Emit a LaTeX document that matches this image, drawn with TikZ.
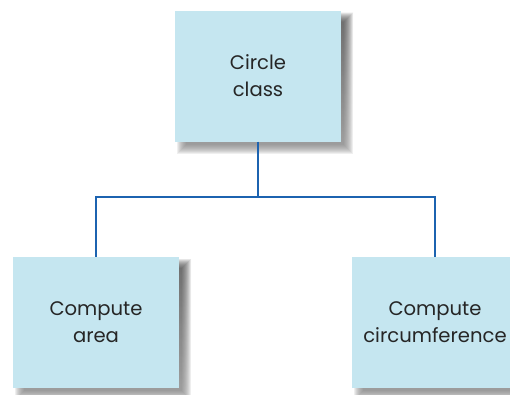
\documentclass[tikz,border=0pt]{standalone}
\usepackage{fontspec}
\setmainfont{Poppins}
\definecolor{boxfill}{HTML}{C5E6F0}
\definecolor{linkblue}{HTML}{1C63B0}
\definecolor{shade}{HTML}{BDB890}
\definecolor{inktext}{HTML}{262626}
\begin{document}
\begin{tikzpicture}[x=1pt,y=-1pt,
  boxstyle/.style={fill=boxfill, draw=none, minimum width=166pt, minimum height=131pt,
    inner sep=0pt, align=center, text=inktext, font=\fontsize{19.6}{27}\selectfont},
  link/.style={draw=linkblue, line width=2pt}]
\useasboundingbox (0,0) rectangle (510,394);
% soft olive drop shadows, built from stacked translucent rectangles
\foreach \cx/\cy in {258/76, 96/322.5, 435/322.5}{
  \foreach \s in {0,1,...,9}{
    \fill[shade, opacity=0.065]
      (\cx-83+7-\s+4, \cy-65.5+7-\s+4) rectangle (\cx+83+7+\s-4, \cy+65.5+7+\s-4);
  }
}
\node[boxstyle] (circle) at (258,76) {Circle\\class};
\node[boxstyle] (area) at (96,322.5) {Compute\\area};
\node[boxstyle] (circ) at (435,322.5) {Compute\\circumference};
\coordinate (mid) at (258,197);
\draw[link] (circle.south) -- (mid);
\draw[link] (area.north) |- (mid) -| (circ.north);
\end{tikzpicture}
\end{document}
